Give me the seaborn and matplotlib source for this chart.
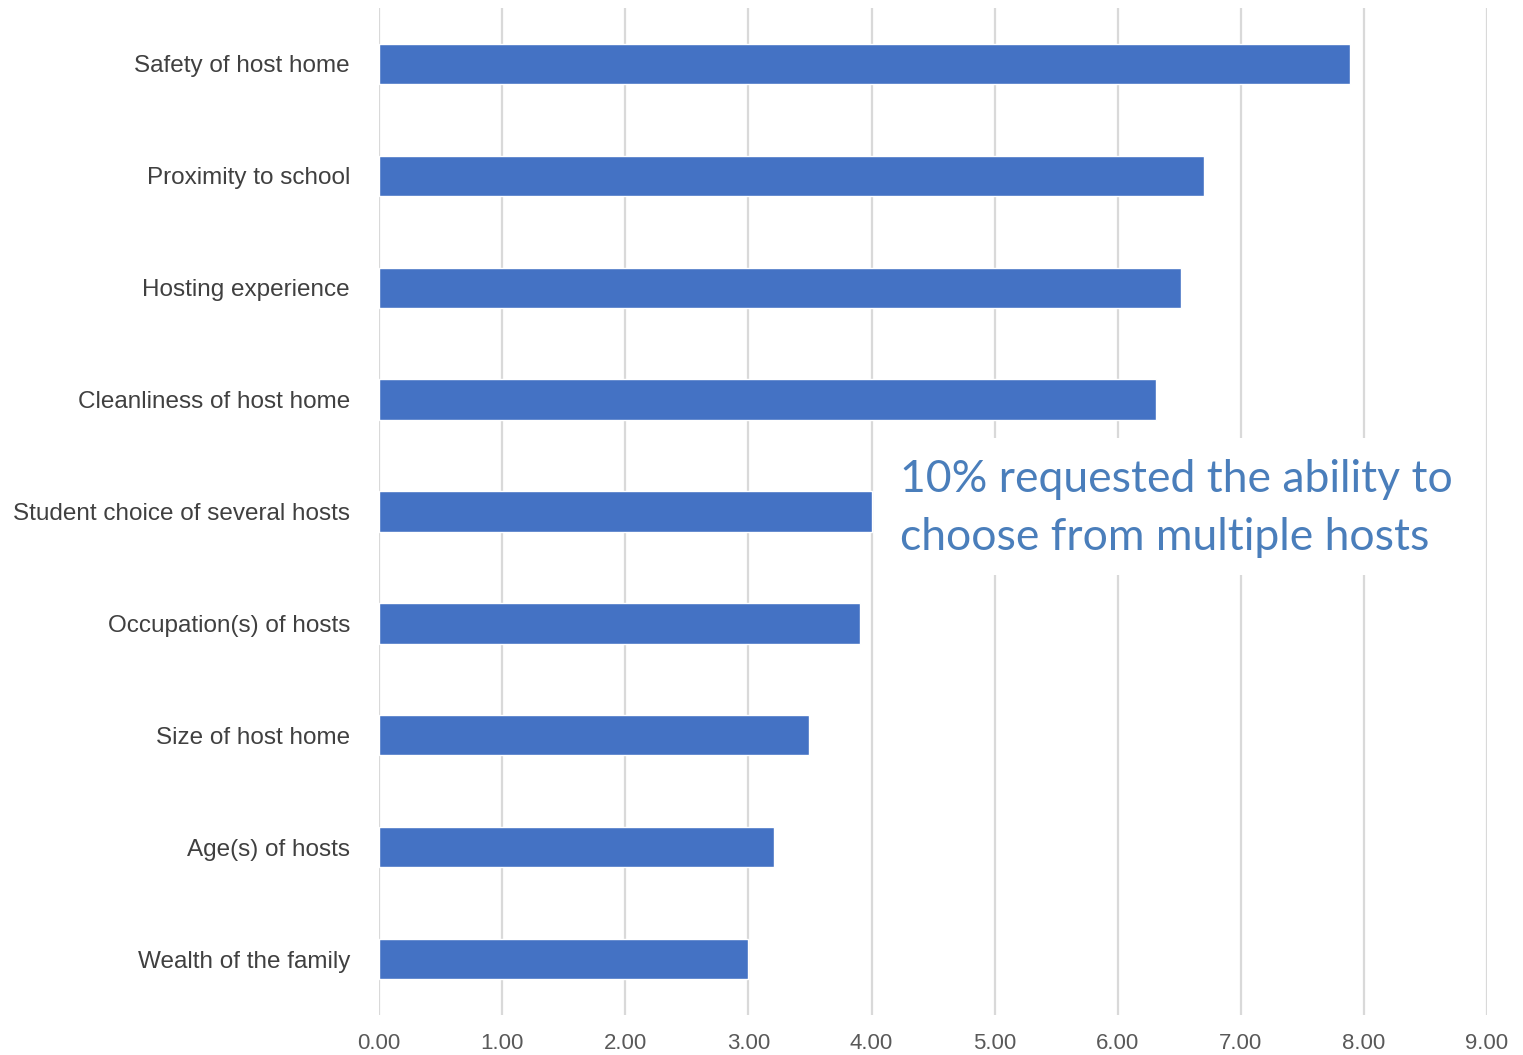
import matplotlib

matplotlib.use("Agg")
import matplotlib.pyplot as plt
import matplotlib.patches as mpatches
from matplotlib.ticker import FormatStrFormatter
import pandas as pd
import seaborn as sns

factors = [
    "Safety of host home",
    "Proximity to school",
    "Hosting experience",
    "Cleanliness of host home",
    "Student choice of several hosts",
    "Occupation(s) of hosts",
    "Size of host home",
    "Age(s) of hosts",
    "Wealth of the family",
]
scores = [7.89, 6.70, 6.51, 6.31, 4.00, 3.91, 3.49, 3.21, 3.00]
x_ticks = [0, 1, 2, 3, 4, 5, 6, 7, 8, 9]
note = "10% requested the ability to\nchoose from multiple hosts"

BAR = "#4472C4"
GRID = "#d9d9d9"
TICK = "#595959"
NOTE = "#4a7ebb"

df = pd.DataFrame({"factor": factors, "score": scores})

sns.set_theme(style="white")
plt.rcParams["font.family"] = ["Liberation Sans", "DejaVu Sans"]

fig = plt.figure(figsize=(15.23, 10.55), dpi=100)
ax = fig.add_axes([0.2489, 0.0379, 0.7275, 0.9545])

sns.barplot(data=df, y="factor", x="score", color=BAR, width=0.36, saturation=1, ax=ax)

ax.set_xlim(0, 9)
ax.set_ylim(len(factors) - 0.5, -0.5)
ax.set_xticks(x_ticks)
ax.xaxis.set_major_formatter(FormatStrFormatter("%.2f"))
ax.set_xlabel("")
ax.set_ylabel("")
ax.set_axisbelow(True)
ax.grid(axis="x", color=GRID, linewidth=1.6)
ax.grid(axis="y", visible=False)
for s in ax.spines.values():
    s.set_visible(False)
ax.tick_params(axis="x", length=0, pad=13, labelsize=16, labelcolor=TICK)
ax.tick_params(axis="y", length=0, pad=21, labelsize=17.5, labelcolor="#404040")

# white box behind the note, cutting the gridlines
ax.add_patch(mpatches.Rectangle((0.452, 0.437), 0.5417, 0.136, transform=ax.transAxes,
                                facecolor="white", edgecolor="none", zorder=2))
ax.text(0.470, 0.503, note, transform=ax.transAxes, ha="left", va="center",
        fontsize=32, color=NOTE, family=["Lato", "DejaVu Sans"], linespacing=1.52, zorder=3)

fig.savefig("out.png", dpi=100)
